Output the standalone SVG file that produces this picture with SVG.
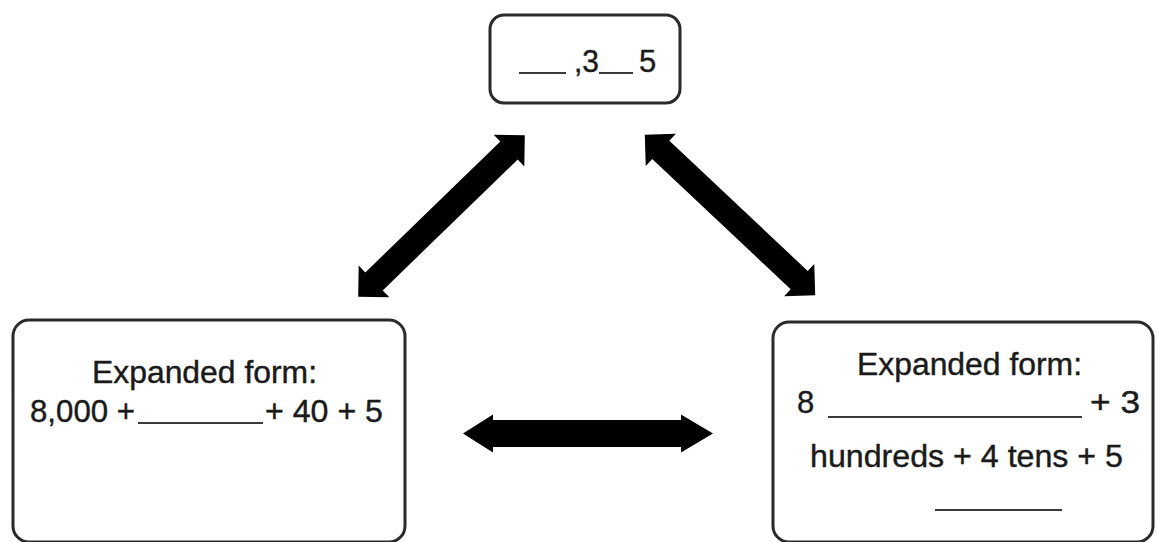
<svg xmlns="http://www.w3.org/2000/svg" width="1157" height="542" viewBox="0 0 1157 542">
  <style>
    .box { fill: #ffffff; stroke: #2a2a2a; stroke-width: 3; }
    .txt { font-family: "Liberation Sans", Arial, sans-serif; font-size: 31px; fill: #1a1a1a; stroke: #1a1a1a; stroke-width: 0.4; }
    .blank { stroke: #3a3a3a; stroke-width: 1.8; }
    .arrow { fill: #000000; }
  </style>
  <rect x="0" y="0" width="1157" height="542" fill="#ffffff"/>

  <g id="node-top">
    <rect class="box" x="490" y="15" width="190" height="88" rx="14"/>
    <line class="blank" x1="519" y1="73" x2="566" y2="73"/>
    <text class="txt" x="574" y="72" textLength="25" lengthAdjust="spacingAndGlyphs">,3</text>
    <line class="blank" x1="599" y1="73" x2="633" y2="73"/>
    <text class="txt" x="639" y="72">5</text>
  </g>

  <g id="node-left">
    <rect class="box" x="13" y="320" width="392" height="222" rx="16"/>
    <text class="txt" x="92" y="383" textLength="225" lengthAdjust="spacingAndGlyphs">Expanded form:</text>
    <text class="txt" x="30" y="422" textLength="105" lengthAdjust="spacingAndGlyphs">8,000 +</text>
    <line class="blank" x1="138" y1="423" x2="263" y2="423"/>
    <text class="txt" x="265" y="422" textLength="118" lengthAdjust="spacingAndGlyphs">+ 40 + 5</text>
  </g>

  <g id="node-right">
    <rect class="box" x="773" y="322" width="380" height="220" rx="16"/>
    <text class="txt" x="857" y="375" textLength="225" lengthAdjust="spacingAndGlyphs">Expanded form:</text>
    <text class="txt" x="797" y="413">8</text>
    <line class="blank" x1="828" y1="417" x2="1082" y2="417"/>
    <text class="txt" x="1090" y="413" textLength="50" lengthAdjust="spacingAndGlyphs">+ 3</text>
    <text class="txt" x="810" y="467" textLength="313" lengthAdjust="spacingAndGlyphs">hundreds + 4 tens + 5</text>
    <line class="blank" x1="935" y1="510" x2="1062" y2="510"/>
  </g>

  <g id="connectors">
    <path class="arrow" transform="translate(441.5 216) rotate(-44.1)" d="M-116,0 L-94,-22 L-94,-12.5 L94,-12.5 L94,-22 L116,0 L94,22 L94,12.5 L-94,12.5 L-94,22 Z"/>
    <path class="arrow" transform="translate(730 215) rotate(43.26)" d="M-117,0 L-95,-22 L-95,-12.5 L95,-12.5 L95,-22 L117,0 L95,22 L95,12.5 L-95,12.5 L-95,22 Z"/>
    <path class="arrow" transform="translate(588 433.5)" d="M-125,0 L-95,-19 L-95,-13.5 L93,-13.5 L93,-19 L125,0 L93,19 L93,13.5 L-95,13.5 L-95,19 Z"/>
  </g>
</svg>
